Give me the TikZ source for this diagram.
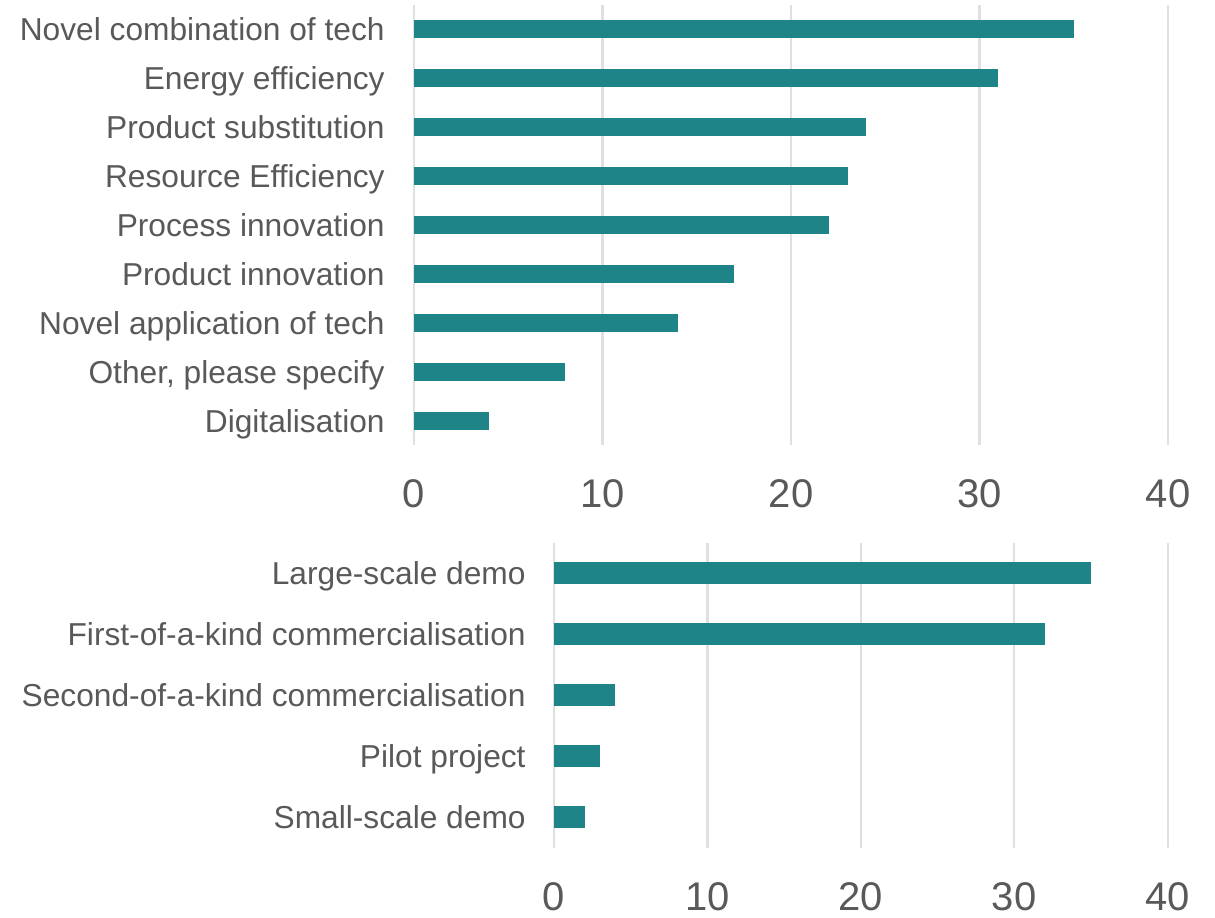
\documentclass[tikz,border=0pt]{standalone}
\usepackage{fontspec}
\setmainfont{Liberation Sans}
\usetikzlibrary{positioning}

\definecolor{barteal}{RGB}{31,132,136}
\definecolor{labelgray}{RGB}{89,89,89}
\definecolor{gridgray}{RGB}{224,224,224}

\tikzset{
  bar/.style={fill=barteal},
  gridline/.style={draw=gridgray, line width=1.1pt},
  catlabel/.style={text=labelgray, font=\fontsize{15.85}{19}\selectfont,
    anchor=base east, inner sep=0pt},
  ticklabel/.style={text=labelgray, font=\fontsize{20}{24}\selectfont,
    inner sep=0pt},
}

\begin{document}
\begin{tikzpicture}[x=0.5pt, y=0.5pt]
  \useasboundingbox (0,0) rectangle (1215,-917);

  % upper chart: kind of innovation
  \foreach \t in {0,10,20,30,40} {
    \draw [gridline] ({414+18.85*\t},-5) -- ({414+18.85*\t},-445);
    \node [ticklabel] (uptick\t) at ({414+18.85*\t},-494) {\t};
  }
  \foreach \v/\name [count=\i] in {35/Novel combination of tech,
      31/Energy efficiency, 24/Product substitution,
      23/Resource Efficiency, 22/Process innovation,
      17/Product innovation, 14/Novel application of tech,
      8/{Other, please specify}, 4/Digitalisation} {
    \pgfmathsetmacro{\yc}{-29-49*(\i-1)}
    \fill [bar] (414,\yc+9) rectangle ({414+18.85*\v},\yc-9);
    \node [catlabel] (uplbl\i) at (385,\yc-11.5) {\name};
  }

  % lower chart: project stage
  \foreach \t in {0,10,20,30,40} {
    \draw [gridline] ({554+15.34*\t},-543) -- ({554+15.34*\t},-848);
    \node [ticklabel] (lotick\t) at ({554+15.34*\t},-897) {\t};
  }
  \foreach \v/\name [count=\i] in {35/Large-scale demo,
      32/First-of-a-kind commercialisation,
      4/Second-of-a-kind commercialisation,
      3/Pilot project, 2/Small-scale demo} {
    \pgfmathsetmacro{\yc}{-573-61*(\i-1)}
    \fill [bar] (554,\yc+10.7) rectangle ({554+15.34*\v},\yc-10.7);
    \node [catlabel] (lolbl\i) at (526,\yc-11.5) {\name};
  }
\end{tikzpicture}
\end{document}
